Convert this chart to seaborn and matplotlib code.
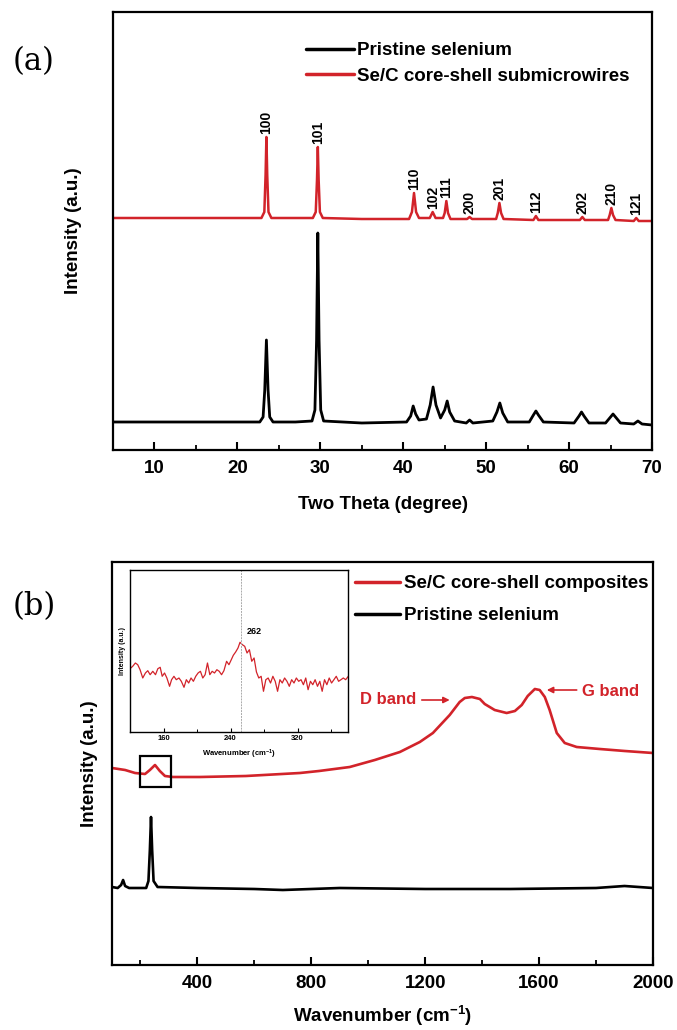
import numpy as np
import pandas as pd
import matplotlib
matplotlib.use("Agg")
import matplotlib.pyplot as plt
from matplotlib.patches import Rectangle
from matplotlib.ticker import MultipleLocator, FixedLocator
import seaborn as sns

# ---------------- data ----------------
# (a) XRD patterns (intensity in arbitrary units, offset stacked)
xrd_theta_black = [5, 10, 15, 20, 22.7, 23.1, 23.3, 23.5, 23.7, 23.9, 24.3, 27, 29.0, 29.35, 29.55, 29.7,
                   29.85, 30.05, 30.4, 35, 40.4, 40.9, 41.2, 41.5, 41.9, 42.8, 43.25, 43.6, 43.95, 44.5,
                   45.0, 45.3, 45.6, 46.2, 47.6, 48.0, 48.4, 50.8, 51.3, 51.65, 52.0, 52.6, 55.2, 55.7,
                   56.0, 56.3, 56.9, 60.6, 61.2, 61.5, 61.8, 62.4, 64.4, 65.0, 65.3, 65.6, 66.2, 67.8,
                   68.3, 68.8, 70]
xrd_int_black = [28, 28, 28, 28, 28, 33, 60, 110, 60, 33, 28, 28, 29, 40, 110, 217,
                 110, 40, 29, 27, 28, 34, 44, 36, 30, 31, 45, 63, 45, 32,
                 40, 49, 38, 29, 27, 30, 27, 29, 38, 47, 37, 28, 28, 35,
                 39, 35, 28, 27, 34, 38, 34, 27, 27, 33, 36, 33, 27, 26,
                 29, 26, 25]

xrd_theta_red = [5, 10, 15, 20, 22.9, 23.25, 23.4, 23.5, 23.6, 23.75, 24.1, 27, 29.1, 29.45, 29.6, 29.7,
                 29.8, 29.95, 30.3, 35, 40.7, 41.05, 41.3, 41.55, 41.9, 43.2, 43.55, 43.9, 44.8, 45.0,
                 45.2, 45.4, 45.7, 47.7, 48.0, 48.3, 51.2, 51.4, 51.6, 51.8, 52.1, 55.7, 56.0, 56.3,
                 61.3, 61.6, 61.9, 64.7, 64.9, 65.1, 65.3, 65.6, 67.8, 68.1, 68.4, 70]
xrd_int_red = [232, 232, 232, 232, 232, 238, 275, 313, 275, 238, 232, 232, 232, 238, 270, 303,
               270, 238, 232, 231, 231, 238, 257, 238, 232, 232, 238, 232, 232, 237,
               249, 237, 231, 231, 233, 231, 231, 237, 247, 237, 231, 230, 234, 230,
               230, 233, 230, 230, 235, 242, 235, 230, 229, 232, 229, 229]

hkl_labels = ['100', '101', '110', '102', '111', '200', '201', '112', '202', '210', '121']
hkl_pos = [23.5, 29.7, 41.3, 43.55, 45.2, 48.0, 51.6, 56.0, 61.6, 65.1, 68.1]
hkl_top = [313, 303, 257, 238, 249, 233, 247, 234, 233, 242, 232]

xrd_xticks = [10, 20, 30, 40, 50, 60, 70]

# (b) Raman spectra
raman_wn_red = [100, 146, 181, 216, 233, 251, 268, 286, 314, 409, 570, 760, 827, 935, 1023, 1111, 1181,
                1227, 1286, 1321, 1339, 1364, 1392, 1409, 1444, 1486, 1515, 1539, 1560, 1585, 1602,
                1620, 1637, 1662, 1690, 1732, 1813, 1901, 2000]
raman_int_red = [197, 195, 192, 191, 195, 200, 194, 189, 188, 188, 189, 192, 194, 198, 205, 213, 223,
                 232, 250, 263, 267, 268, 266, 261, 255, 252, 254, 260, 269, 276, 275,
                 268, 255, 232, 222, 218, 216, 214, 212]

raman_wn_black = [100, 120, 132, 139, 146, 160, 220, 228, 233, 237, 241, 246, 260, 400, 600, 700, 900,
                  1200, 1500, 1800, 1900, 2000]
raman_int_black = [78, 77, 80, 85, 79, 77, 77, 84, 115, 148, 115, 84, 78, 77, 76, 75, 77,
                   76, 76, 77, 79, 77]

raman_xticks = [400, 800, 1200, 1600, 2000]
zoom_box_wn = (198, 307)
zoom_box_int = (178, 209)

# inset: low-wavenumber region of the composite
inset_wn = [120.0, 123.2, 126.4, 129.2, 132.0, 135.2, 138.4, 141.2, 144.0, 147.2, 150.4, 153.2, 156.0,
            158.4, 161.2, 164.0, 167.2, 169.6, 172.4, 175.2, 178.4, 181.2, 184.4, 187.2, 190.0, 192.8,
            195.6, 198.4, 201.2, 204.0, 206.8, 209.6, 212.4, 215.2, 218.0, 220.8, 223.6, 226.4, 229.2,
            232.0, 235.2, 238.0, 240.8, 243.2, 246.0, 248.8, 251.2, 254.0, 256.8, 259.6, 262.4, 265.2,
            268.0, 270.8, 273.6, 276.4, 279.2, 282.0, 284.8, 287.6, 290.4, 293.2, 296.0, 298.8, 301.6,
            304.4, 307.2, 310.0, 312.8, 315.6, 318.4, 321.2, 324.0, 326.8, 329.6, 332.4, 335.2, 338.0,
            340.8, 343.6, 346.4, 349.2, 352.0, 354.8, 357.6, 360.4, 363.2, 366.0, 368.8, 371.6, 374.4,
            377.2, 380.4]
inset_int = [63.3, 65.7, 69.0, 67.3, 62.3, 54.0, 59.0, 61.3, 57.3, 60.7, 57.3, 63.3, 64.7,
             55.7, 59.0, 54.0, 45.7, 52.3, 55.7, 52.3, 54.0, 50.7, 44.7, 52.3, 49.0, 54.0,
             50.7, 55.7, 59.0, 60.7, 54.0, 57.3, 69.0, 57.3, 60.7, 59.0, 62.3, 60.7, 57.3,
             61.3, 70.7, 67.3, 72.3, 76.7, 80.0, 84.0, 89.7, 87.3, 85.7, 79.0, 82.3, 70.7,
             74.0, 60.0, 54.0, 55.7, 40.7, 52.3, 54.0, 49.0, 55.7, 50.7, 40.7, 52.3, 49.0,
             54.0, 50.7, 45.7, 52.3, 49.0, 54.0, 50.7, 52.3, 47.3, 54.0, 42.3, 50.7, 47.3,
             52.3, 45.7, 50.7, 40.7, 52.3, 47.3, 54.0, 49.0, 52.3, 55.7, 50.7, 52.3, 54.0,
             52.3, 55.7]
inset_peak_wn = 252
inset_peak_label = '262'
inset_xticks = [160, 240, 320]

# ---------------- style ----------------
sns.set_theme(style="white")
plt.rcParams['font.family'] = ['Liberation Sans', 'DejaVu Sans']
plt.rcParams['font.weight'] = 'bold'
plt.rcParams['axes.labelweight'] = 'bold'
plt.rcParams['text.color'] = 'black'
plt.rcParams['axes.labelcolor'] = 'black'
plt.rcParams['xtick.color'] = 'black'
plt.rcParams['ytick.color'] = 'black'
plt.rcParams['mathtext.fontset'] = 'custom'
plt.rcParams['mathtext.rm'] = 'Liberation Sans:bold'
plt.rcParams['mathtext.bf'] = 'Liberation Sans:bold'
plt.rcParams['mathtext.it'] = 'Liberation Sans:bold'
plt.rcParams['mathtext.default'] = 'bf'

RED = '#d2232a'
BLACK = '#000000'
W, H = 677, 1030

fig = plt.figure(figsize=(W / 100, H / 100), dpi=100)
fig.patch.set_facecolor('white')


def style_main(ax):
    for s in ax.spines.values():
        s.set_linewidth(1.6)
        s.set_color('black')
    ax.tick_params(axis='x', which='major', direction='in', length=6, width=1.5,
                   labelsize=13.5, pad=7, bottom=True, top=False, colors='black')
    ax.tick_params(axis='x', which='minor', direction='in', length=3.5, width=1.3,
                   bottom=True, top=False)
    ax.tick_params(axis='y', left=False, right=False, labelleft=False)
    for lab in ax.get_xticklabels():
        lab.set_fontweight('bold')


# ---------------- (a) XRD ----------------
ax1 = fig.add_axes([113 / W, 1 - 450 / H, 539 / W, 438 / H])
df_b = pd.DataFrame({'x': xrd_theta_black, 'y': xrd_int_black})
df_r = pd.DataFrame({'x': xrd_theta_red, 'y': xrd_int_red})
sns.lineplot(data=df_b, x='x', y='y', ax=ax1, color=BLACK, linewidth=2.0, sort=False,
             estimator=None, label='Pristine selenium')
sns.lineplot(data=df_r, x='x', y='y', ax=ax1, color=RED, linewidth=1.8, sort=False,
             estimator=None, label='Se/C core-shell submicrowires')
ax1.set_xlim(5, 70)
ax1.set_ylim(0, 438)
ax1.xaxis.set_major_locator(FixedLocator(xrd_xticks))
ax1.xaxis.set_minor_locator(MultipleLocator(5))
ax1.set_xlabel('Two Theta (degree)', fontsize=13.5, fontweight='bold', labelpad=14)
ax1.set_ylabel('Intensity (a.u.)', fontsize=13.5, fontweight='bold', labelpad=22)
style_main(ax1)
for lab, xp, yp in zip(hkl_labels, hkl_pos, hkl_top):
    ax1.annotate(lab, xy=(xp, yp), xytext=(0, 2), textcoords='offset points',
                 rotation=90, ha='center', va='bottom', fontsize=10, fontweight='bold')
leg1 = ax1.legend(loc='upper left', bbox_to_anchor=((306 - 113) / 539, 1 - (42 - 12) / 438),
                  frameon=False, fontsize=13.5, handlelength=2.55, handletextpad=0.15,
                  borderpad=0, borderaxespad=0, labelspacing=0.45)
for t in leg1.get_texts():
    t.set_fontweight('bold')
for l in leg1.get_lines():
    l.set_linewidth(2.5)

# ---------------- (b) Raman ----------------
ax2 = fig.add_axes([112 / W, 1 - 965 / H, 541 / W, 403 / H])
df_rb = pd.DataFrame({'x': raman_wn_black, 'y': raman_int_black})
df_rr = pd.DataFrame({'x': raman_wn_red, 'y': raman_int_red})
sns.lineplot(data=df_rr, x='x', y='y', ax=ax2, color=RED, linewidth=1.9, sort=False,
             estimator=None, label='Se/C core-shell composites')
sns.lineplot(data=df_rb, x='x', y='y', ax=ax2, color=BLACK, linewidth=1.9, sort=False,
             estimator=None, label='Pristine selenium')
ax2.set_xlim(100, 2000)
ax2.set_ylim(0, 403)
ax2.xaxis.set_major_locator(FixedLocator(raman_xticks))
ax2.xaxis.set_minor_locator(FixedLocator([200, 600, 1000, 1400, 1800]))
ax2.set_xlabel(r'Wavenumber (cm$^{-1}$)', fontsize=13.5, fontweight='bold', labelpad=9)
ax2.set_ylabel('Intensity (a.u.)', fontsize=13.5, fontweight='bold', labelpad=10)
style_main(ax2)
ax2.add_patch(Rectangle((zoom_box_wn[0], zoom_box_int[0]), zoom_box_wn[1] - zoom_box_wn[0],
                        zoom_box_int[1] - zoom_box_int[0], fill=False, edgecolor='black',
                        linewidth=1.6, zorder=5))
leg2 = ax2.legend(loc='upper left', bbox_to_anchor=((355 - 112) / 541, 1 - (575 - 562) / 403),
                  frameon=False, fontsize=13.5, handlelength=2.4, handletextpad=0.2,
                  borderpad=0, borderaxespad=0, labelspacing=0.8)
for t in leg2.get_texts():
    t.set_fontweight('bold')
for l in leg2.get_lines():
    l.set_linewidth(2.5)

# D / G band annotations
ax2.annotate('', xy=(1286, 265), xytext=(1188, 265),
             arrowprops=dict(arrowstyle='-|>', color=RED, lw=1.2, mutation_scale=9,
                             shrinkA=0, shrinkB=0))
ax2.text(1070, 265, 'D band', color=RED, fontsize=12, fontweight='bold', ha='center', va='center')
ax2.annotate('', xy=(1627, 275), xytext=(1732, 275),
             arrowprops=dict(arrowstyle='-|>', color=RED, lw=1.2, mutation_scale=9,
                             shrinkA=0, shrinkB=0))
ax2.text(1750, 274, 'G band', color=RED, fontsize=12, fontweight='bold', ha='left', va='center')

# ---------------- inset ----------------
axi = fig.add_axes([130 / W, 1 - 732 / H, 218 / W, 162 / H])
df_in = pd.DataFrame({'x': inset_wn, 'y': inset_int})
sns.lineplot(data=df_in, x='x', y='y', ax=axi, color=RED, linewidth=0.9, sort=False,
             estimator=None, legend=False)
axi.set_xlim(120, 380)
axi.set_ylim(0, 162)
axi.axvline(inset_peak_wn, color='#aaaaaa', linestyle='--', linewidth=0.7, dashes=(2, 1))
axi.text(259, 101, inset_peak_label, fontsize=6.5, fontweight='bold', ha='left', va='center')
axi.xaxis.set_major_locator(FixedLocator(inset_xticks))
axi.xaxis.set_minor_locator(FixedLocator([200, 280, 360]))
axi.tick_params(axis='x', which='major', direction='in', length=3, width=0.8, labelsize=5.5,
                pad=2.5, bottom=True)
axi.tick_params(axis='x', which='minor', direction='in', length=2, width=0.7, bottom=True)
axi.tick_params(axis='y', left=False, labelleft=False)
for lab in axi.get_xticklabels():
    lab.set_fontweight('bold')
for s in axi.spines.values():
    s.set_linewidth(1.0)
    s.set_color('black')
axi.set_xlabel(r'Wavenumber (cm$^{-1}$)', fontsize=5.5, fontweight='bold', labelpad=4)
axi.set_ylabel('Intensity (a.u.)', fontsize=5, fontweight='bold', labelpad=3)

# panel letters
fig.text(34 / W, 1 - 62 / H, '(a)', family='DejaVu Serif', fontsize=22, fontweight='normal',
         ha='center', va='center')
fig.text(34 / W, 1 - 607 / H, '(b)', family='DejaVu Serif', fontsize=22, fontweight='normal',
         ha='center', va='center')

fig.savefig('out.png', dpi=100, facecolor='white')
